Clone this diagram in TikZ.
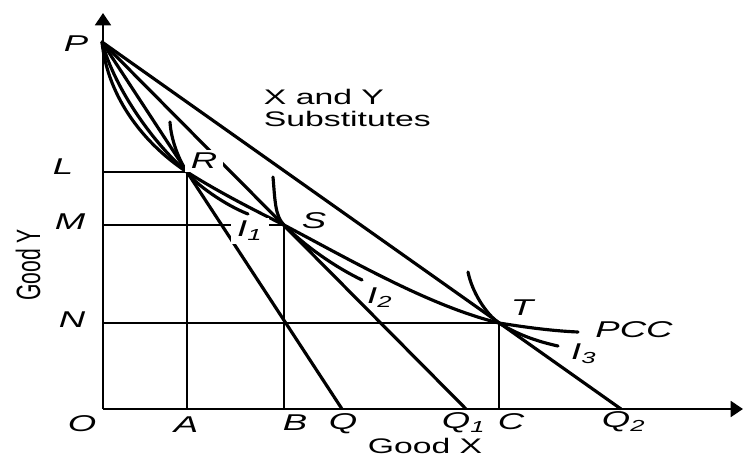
\documentclass[tikz,border=0pt]{standalone}
\usepackage{fontspec}
\setmainfont{Liberation Sans}
\usetikzlibrary{arrows.meta, positioning, calc}
\tikzset{
  every picture/.style={line width=1.4pt},
  axis/.style={-{Triangle[length=7pt, width=9pt]}, line width=1.4pt},
  budget/.style={line width=1.8pt},
  guide/.style={line width=1.1pt},
  curve/.style={line width=1.8pt, line cap=round},
  letter/.style={font=\fontsize{13}{15}\selectfont\itshape, xscale=1.6, inner sep=1pt},
  words/.style={font=\fontsize{12}{12.5}\selectfont, xscale=1.6, align=left, inner sep=0pt},
  upwords/.style={font=\fontsize{12}{12.5}\selectfont, rotate=90, yscale=1.6, inner sep=0pt},
  mask/.style={fill=white, inner sep=2pt},
}

\begin{document}
\begin{tikzpicture}[x=0.02cm, y=-0.02cm]
  \useasboundingbox (0,0) rectangle (744,457);
  % points
  \coordinate (O) at (103,409);
  \coordinate (ytop) at (103,13);
  \coordinate (xend) at (743,409);
  \coordinate (P) at (102,42);
  \coordinate (R) at (187,172);
  \coordinate (S) at (284,225);
  \coordinate (T) at (499,323);
  \coordinate (Q) at (342,409);
  \coordinate (Q1) at (466,409);
  \coordinate (Q2) at (621,409);
  \coordinate (pccend) at (578,332);
  \coordinate (i1top) at (170,122);
  \coordinate (i1end) at (248,214);
  \coordinate (i2top) at (273,177);
  \coordinate (i2end) at (362,280);
  \coordinate (i3top) at (468,272);
  \coordinate (i3end) at (558,346);
  % axes
  \draw[axis] (O) -- (ytop);
  \draw[axis] (O) -- (xend);
  % budget lines
  \draw[budget] (P) -- (Q);
  \draw[budget] (P) -- (Q1);
  \draw[budget] (P) -- (Q2);
  % guide lines
  \draw[guide] (O |- R) -- (R) -- (R |- O);
  \draw[guide] (O |- S) -- (S) -- (S |- O);
  \draw[guide] (O |- T) -- (T) -- (T |- O);
  % price consumption curve
  \draw[curve] (P) .. controls (108,100) and (147,146) .. (R)
    .. controls (217,191) and (250,208) .. (S)
    .. controls (354,262) and (430,306) .. (T)
    .. controls (530,328) and (555,331) .. (pccend);
  \draw[curve] (P) .. controls (115,90) and (155,145) .. (R);
  % indifference curves
  \draw[curve] (i1top) .. controls (171,140) and (179,160) .. (R) .. controls (195,184) and (225,205) .. (i1end);
  \draw[curve] (i2top) .. controls (275,200) and (275,216) .. (S) .. controls (305,246) and (335,267) .. (i2end);
  \draw[curve] (i3top) .. controls (472,292) and (486,314) .. (T) .. controls (520,336) and (540,342) .. (i3end);
  % labels
  \node[letter] (lP) at (76,44) {P};
  \node[letter] (lL) at (63,167) {L};
  \node[letter] (lM) at (70,222) {M};
  \node[letter] (lN) at (72,320) {N};
  \node[letter] (lO) at (82,424) {O};
  \node[letter] (lA) at (186,425) {A};
  \node[letter] (lB) at (295,423) {B};
  \node[letter] (lQ) at (343,424) {Q};
  \node[letter] (lQ1) at (464,423) {Q\textsubscript{1}};
  \node[letter] (lC) at (511,422) {C};
  \node[letter] (lQ2) at (624,422) {Q\textsubscript{2}};
  \node[letter, mask] (lR) at (204,161) {R};
  \node[letter] (lS) at (314,221) {S};
  \node[letter] (lT) at (522,308) {T};
  \node[letter, mask] (lI1) at (250,231) {I\textsubscript{1}};
  \node[letter] (lI2) at (380,298) {I\textsubscript{2}};
  \node[letter] (lI3) at (584,354) {I\textsubscript{3}};
  \node[letter] (lPCC) at (634,330) {PCC};
  \node[words] (goodx) at (425,446) {Good X};
  \node[upwords] (goody) at (28,265) {Good Y};
  \node[words, anchor=west] (subst) at (262,108) {X and Y\\Substitutes};
\end{tikzpicture}
\end{document}
